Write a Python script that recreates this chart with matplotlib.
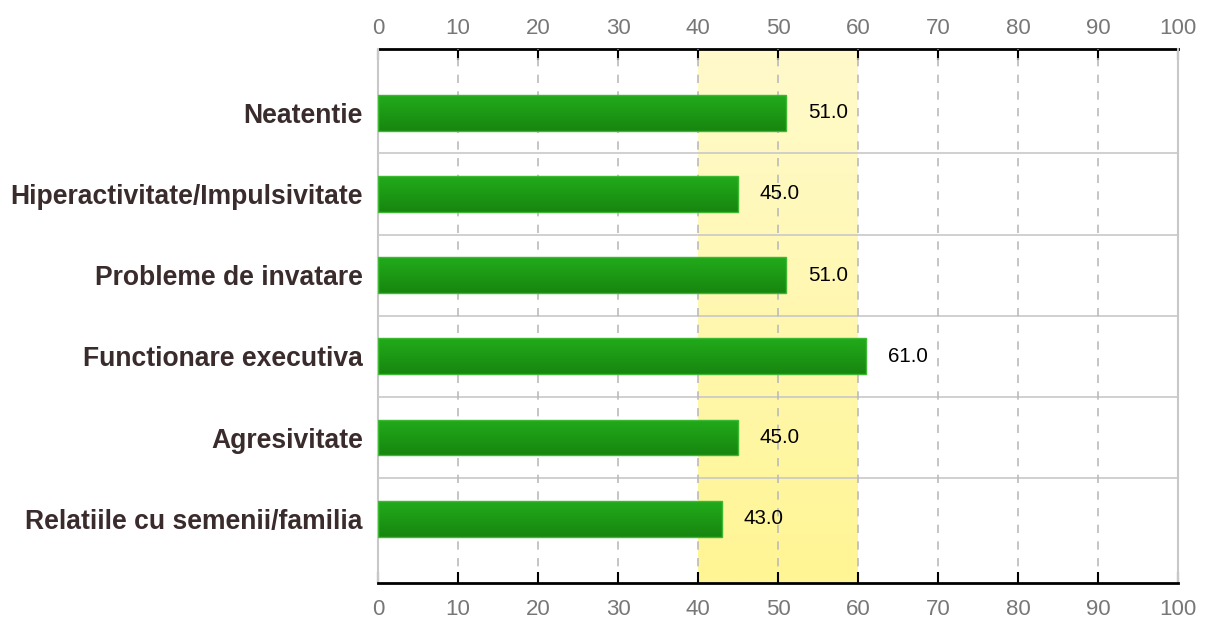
import numpy as np
import matplotlib.pyplot as plt
from matplotlib.colors import LinearSegmentedColormap

categories = ['Neatentie', 'Hiperactivitate/Impulsivitate', 'Probleme de invatare',
              'Functionare executiva', 'Agresivitate', 'Relatiile cu semenii/familia']
values = [51.0, 45.0, 51.0, 61.0, 45.0, 43.0]
band = (40, 60)
xticks = np.arange(0, 101, 10)

plt.rcParams['font.family'] = ['Liberation Sans', 'DejaVu Sans']

fig = plt.figure(figsize=(12.07, 6.19), dpi=100)
ax = fig.add_axes([378/1207, 1-582.5/619, 800/1207, 533.5/619])

y = np.arange(len(categories))
ax.set_xlim(0, 100)
ax.set_ylim(len(categories) - 0.5 + 0.285, -0.5 - 0.285)

# yellow band, light at top -> deeper at bottom
band_cmap = LinearSegmentedColormap.from_list('band', ['#FFFACC', '#FFF594'])
grad = np.linspace(0, 1, 256).reshape(-1, 1)
y0, y1 = ax.get_ylim()
ax.imshow(grad, cmap=band_cmap, aspect='auto', extent=(band[0], band[1], y0, y1),
          origin='upper', zorder=0)
ax.set_ylim(y0, y1)

ax.grid(axis='x', ls=(0, (5, 5)), color='#BBBBBB', lw=1.2, zorder=1)
for sep in y[:-1] + 0.5:
    ax.axhline(sep, color='#C8C8C8', lw=1.2, zorder=1)

# bars with green gradient
bar_cmap = LinearSegmentedColormap.from_list('bar', ['#22AB1B', '#17860F'])
bars = ax.barh(y, values, height=0.44, color='none', edgecolor='#3DB832', lw=1, zorder=3)
for b in bars:
    x0, yb = b.get_x(), b.get_y()
    im = ax.imshow(grad, cmap=bar_cmap, aspect='auto',
                   extent=(x0, x0 + b.get_width(), yb + b.get_height(), yb),
                   origin='upper', zorder=2)
    im.set_clip_path(b)
ax.set_ylim(y0, y1)
ax.set_xlim(0, 100)

for yi, v in zip(y, values):
    ax.annotate(f'{v:.1f}', (v, yi), xytext=(22, 0), textcoords='offset pixels',
                ha='left', va='center', fontsize=14.8, color='#000000', zorder=4)

ax.set_yticks(y)
ax.set_yticklabels(categories, fontsize=19.1, fontweight='bold', color='#3A2C2C')
ax.tick_params(axis='y', length=0, pad=11)

ax.set_xticks(xticks)
ax.tick_params(axis='x', direction='in', length=8, width=1.5, color='black',
               top=False, bottom=True, labelbottom=True,
               labelsize=16, labelcolor='#777777', pad=12)

top = ax.secondary_xaxis('top')
top.set_xticks(xticks)
top.tick_params(axis='x', direction='in', length=8, width=1.5, color='black',
                labelsize=16, labelcolor='#777777', pad=7)
top.spines['top'].set_color('black')
top.spines['top'].set_linewidth(2)

ax.spines['top'].set_visible(False)
ax.spines['bottom'].set_color('black')
ax.spines['bottom'].set_linewidth(2)
for s in ['left', 'right']:
    ax.spines[s].set_color('#C8C8C8')
    ax.spines[s].set_linewidth(1.5)

fig.savefig('out.png', dpi=100)
